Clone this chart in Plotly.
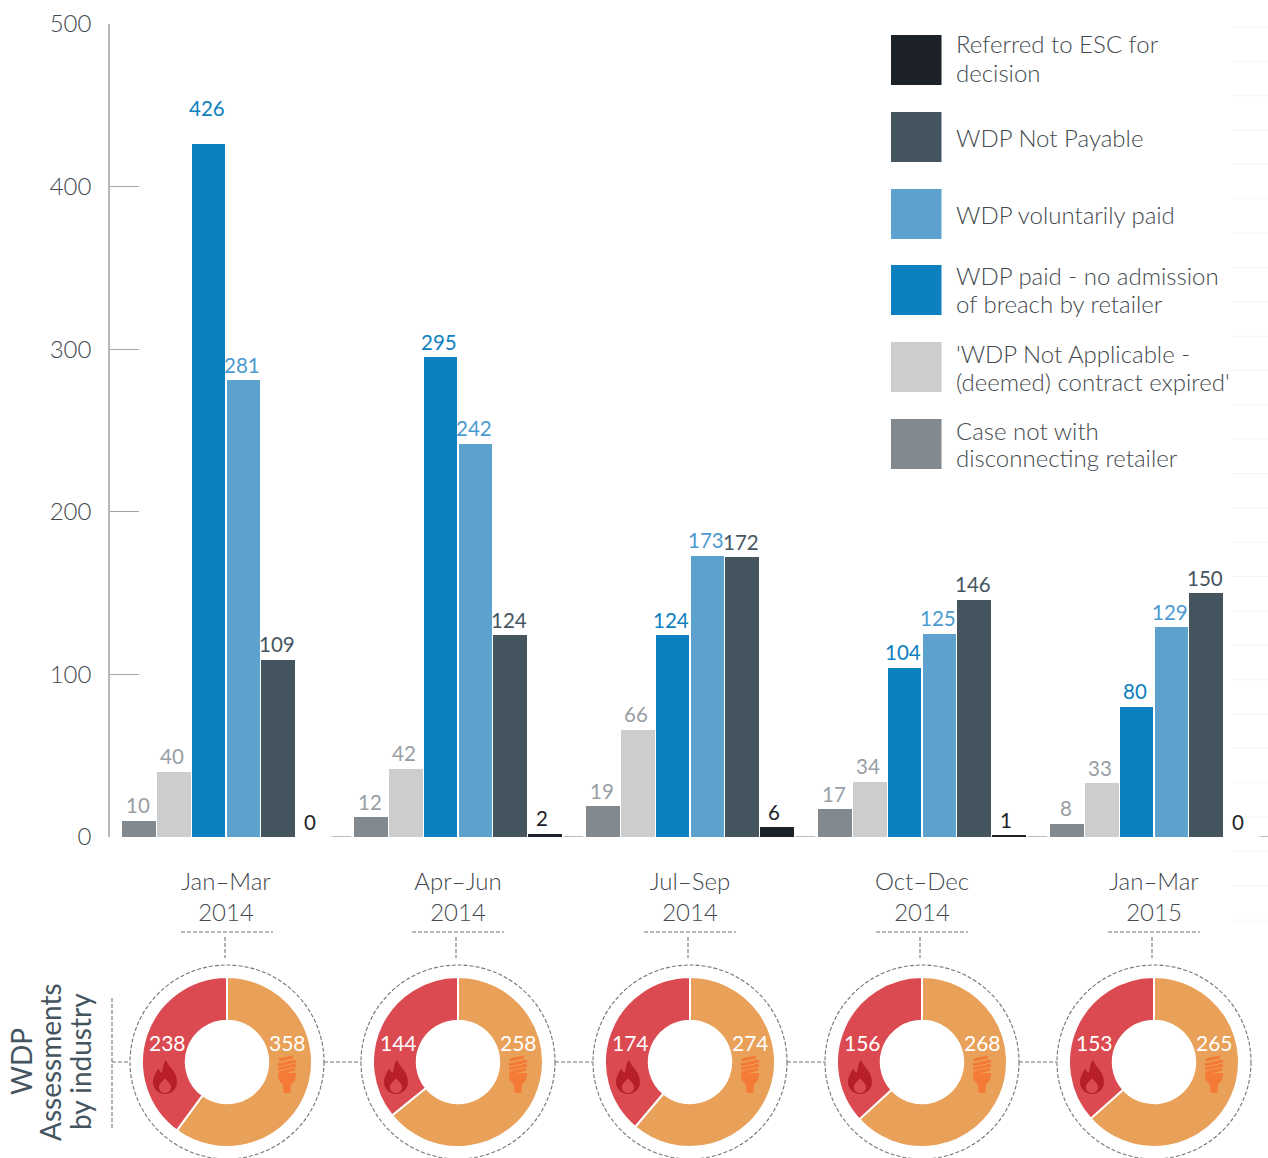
import plotly.graph_objects as go

WIDTH, HEIGHT = 1268, 1158
FONT = "Lato"

quarters = ["Jan–Mar<br>2014", "Apr–Jun<br>2014", "Jul–Sep<br>2014", "Oct–Dec<br>2014", "Jan–Mar<br>2015"]

not_with_retailer = [10, 12, 19, 17, 8]
not_applicable = [40, 42, 66, 34, 33]
paid_no_admission = [426, 295, 124, 104, 80]
voluntarily_paid = [281, 242, 173, 125, 129]
not_payable = [109, 124, 172, 146, 150]
referred_to_esc = [0, 2, 6, 1, 0]

series_names = [
    "Case not with disconnecting retailer",
    "'WDP Not Applicable - (deemed) contract expired'",
    "WDP paid - no admission of breach by retailer",
    "WDP voluntarily paid",
    "WDP Not Payable",
    "Referred to ESC for decision",
]
series_values = [not_with_retailer, not_applicable, paid_no_admission,
                 voluntarily_paid, not_payable, referred_to_esc]
bar_colors = ["#82898f", "#cccdce", "#0d80bf", "#5da2cf", "#45555f", "#1c2227"]
label_colors = ["#989ea4", "#989ea4", "#0d80bf", "#4b9bd0", "#45555f", "#1c2227"]

gas_assessments = [238, 144, 174, 156, 153]
electricity_assessments = [358, 258, 274, 268, 265]

legend_rows = [
    (["Referred to ESC for", "decision"], "#1c2227"),
    (["WDP Not Payable"], "#45555f"),
    (["WDP voluntarily paid"], "#5da2cf"),
    (["WDP paid - no admission", "of breach by retailer"], "#0d80bf"),
    (["'WDP Not Applicable -", "(deemed) contract expired'"], "#cccdce"),
    (["Case not with", "disconnecting retailer"], "#82898f"),
]
side_title = ["WDP", "Assessments", "by industry"]


# Pixel helpers for the parts placed on the page rather than on the axes
def px(x):
    return x / WIDTH


def py(y):
    return 1 - y / HEIGHT


def icon_path(commands, cx, cy):
    parts = []
    for cmd in commands:
        op, nums = cmd[0], cmd[1:]
        coords = []
        for i in range(0, len(nums), 2):
            coords += [f"{px(cx + nums[i]):.5f}", f"{py(cy + nums[i + 1]):.5f}"]
        parts.append(" ".join([op] + coords))
    return " ".join(parts)


FLAME_OUTER = [("M", 1, -17), ("C", 3, -10, 12, -6, 12, 5), ("C", 12, 12, 7, 17, 0, 17),
               ("C", -7, 17, -12, 12, -12, 5), ("C", -12, -1, -8, -5, -7, -9),
               ("C", -6, -6, -4, -5, -3, -4), ("C", -2, -9, -2, -13, 1, -17), ("Z",)]
FLAME_INNER = [("M", 0, 1), ("C", 1, 4, 6, 6, 6, 10), ("C", 6, 14, 3, 16, 0, 16),
               ("C", -3, 16, -6, 14, -6, 10), ("C", -6, 6, -2, 5, 0, 1), ("Z",)]
BULB_BODY = [("M", -9, -1), ("L", 9, -1), ("C", 9, 4, 8, 8, 4, 10), ("L", 3.5, 19),
             ("L", -3.5, 19), ("L", -4, 10), ("C", -8, 8, -9, 4, -9, -1), ("Z",)]
BULB_COILS = [(-8, -14, 6, -17), (-9, -9, 9, -13), (-9, -5, 9, -9), (-8, -1, 8, -5)]

fig = go.Figure()

# One trace per outcome, side by side within each quarter
STEP = 0.15
for k, (name, values, color) in enumerate(zip(series_names, series_values, bar_colors)):
    fig.add_trace(go.Bar(
        x=[i + (k - 2.5) * STEP for i in range(len(values))],
        y=values,
        width=0.145,
        name=name,
        marker=dict(color=color, line=dict(width=0)),
        showlegend=False,
    ))

annotations = []
shapes = []

# Value labels above the bars
for k, (values, color) in enumerate(zip(series_values, label_colors)):
    for i, v in enumerate(values):
        annotations.append(dict(
            x=i + (k - 2.5) * STEP, y=v, xref="x", yref="y", text=str(v),
            showarrow=False, xanchor="center", yanchor="bottom",
            yshift=22 if v == 426 else 1.5,
            xshift=-3 if k == 5 else -1.5,
            font=dict(family=FONT, size=20.5, color=color),
        ))

# Stubs of the baseline between the quarters
for i in range(5):
    shapes.append(dict(type="line", xref="x", yref="y", x0=i + 0.455, x1=i + 0.54, y0=0, y1=0,
                       line=dict(color="#8a9096", width=1.2)))

# Faint rules along the right edge
for r in range(27):
    y = 27 + 34.35 * r
    shapes.append(dict(type="line", xref="paper", yref="paper", x0=px(1232), x1=1,
                       y0=py(y), y1=py(y), line=dict(color="#f6f6f6", width=1)))

# Legend
swatch_tops = [35, 112, 189, 265, 342, 419]
for (lines, color), top in zip(legend_rows, swatch_tops):
    shapes.append(dict(type="rect", xref="paper", yref="paper", x0=px(891), x1=px(941.5),
                       y0=py(top), y1=py(top + 50), fillcolor=color, line=dict(width=0)))
    mid = top + 25 - (2 if len(lines) == 2 and top == 35 else 0)
    for n, line in enumerate(lines):
        y = mid + (n - (len(lines) - 1) / 2) * 28
        annotations.append(dict(
            x=px(953.5), y=py(y), xref="paper", yref="paper", text=line, showarrow=False,
            xanchor="left", yanchor="middle",
            font=dict(family=FONT, size=24, color="#43494e", weight=300),
        ))

# Industry donuts with their dashed surrounds
DASH_LINE = dict(color="#70767b", width=1.1, dash="4px,2px")
centres = [227, 458, 690, 922, 1154]
CY = 1062
for i, cx in enumerate(centres):
    fig.add_trace(go.Pie(
        values=[electricity_assessments[i], gas_assessments[i]],
        labels=["Electricity", "Gas"],
        domain=dict(x=[px(cx - 85), px(cx + 85)], y=[py(CY + 85), py(CY - 85)]),
        hole=0.485, sort=False, direction="clockwise", rotation=0,
        marker=dict(colors=["#e9a15a", "#db4a51"], line=dict(color="#ffffff", width=2)),
        textinfo="none", showlegend=False, hoverinfo="label+value",
    ))
    annotations.append(dict(x=px(cx - 60), y=py(1042), xref="paper", yref="paper",
                            text=str(gas_assessments[i]), showarrow=False,
                            xanchor="center", yanchor="middle",
                            font=dict(family=FONT, size=21, color="#ffffff")))
    annotations.append(dict(x=px(cx + 60), y=py(1042), xref="paper", yref="paper",
                            text=str(electricity_assessments[i]), showarrow=False,
                            xanchor="center", yanchor="middle",
                            font=dict(family=FONT, size=21, color="#ffffff")))
    shapes.append(dict(type="circle", xref="paper", yref="paper",
                       x0=px(cx - 97), x1=px(cx + 97), y0=py(CY + 97), y1=py(CY - 97),
                       line=DASH_LINE))
    shapes.append(dict(type="line", xref="paper", yref="paper", x0=px(cx - 2), x1=px(cx - 2),
                       y0=py(937), y1=py(958), line=DASH_LINE))
    shapes.append(dict(type="line", xref="paper", yref="paper", x0=px(cx - 46), x1=px(cx + 46),
                       y0=py(932), y1=py(932), line=DASH_LINE))
    if i < len(centres) - 1:
        shapes.append(dict(type="line", xref="paper", yref="paper", x0=px(cx + 97),
                           x1=px(centres[i + 1] - 97), y0=py(CY), y1=py(CY), line=DASH_LINE))
    # Flame and bulb markers
    fx, fy = cx - 62, CY + 15
    shapes.append(dict(type="path", xref="paper", yref="paper", path=icon_path(FLAME_OUTER, fx, fy),
                       fillcolor="#b81f27", line=dict(width=0)))
    shapes.append(dict(type="path", xref="paper", yref="paper", path=icon_path(FLAME_INNER, fx, fy),
                       fillcolor="#db4a51", line=dict(width=0)))
    bx, by = cx + 60, CY + 12
    shapes.append(dict(type="path", xref="paper", yref="paper", path=icon_path(BULB_BODY, bx, by),
                       fillcolor="#f47a36", line=dict(width=0)))
    for x0, y0, x1, y1 in BULB_COILS:
        shapes.append(dict(type="line", xref="paper", yref="paper",
                           x0=px(bx + x0), x1=px(bx + x1), y0=py(by + y0), y1=py(by + y1),
                           line=dict(color="#f47a36", width=3)))

# Rotated side title and its bracket
shapes.append(dict(type="line", xref="paper", yref="paper", x0=px(112), x1=px(112),
                   y0=py(998), y1=py(1128), line=DASH_LINE))
shapes.append(dict(type="line", xref="paper", yref="paper", x0=px(112), x1=px(130),
                   y0=py(CY), y1=py(CY), line=DASH_LINE))
for x, line in zip([21, 50, 80], side_title):
    annotations.append(dict(x=px(x), y=py(CY), xref="paper", yref="paper", text=line,
                            showarrow=False, textangle=-90,
                            xanchor="center", yanchor="middle",
                            font=dict(family=FONT, size=28, color="#45555f")))

fig.update_layout(
    width=WIDTH, height=HEIGHT, autosize=False,
    margin=dict(l=0, r=0, t=0, b=0, pad=0, autoexpand=False),
    paper_bgcolor="#ffffff", plot_bgcolor="#ffffff",
    barmode="overlay", bargap=0,
    font=dict(family=FONT),
    annotations=annotations, shapes=shapes,
    xaxis=dict(
        domain=[px(110), 1], range=[-0.5, 4.4914], automargin=False,
        tickmode="array", tickvals=list(range(5)), ticktext=quarters,
        ticks="", showgrid=False, zeroline=False, showline=False,
        ticklabelstandoff=28,
        tickfont=dict(family=FONT, size=24, color="#43494e", weight=300),
    ),
    yaxis=dict(
        domain=[py(837), py(24)], range=[0, 500], automargin=False,
        tickvals=[0, 100, 200, 300, 400, 500],
        ticks="inside", ticklen=29, tickwidth=1, tickcolor="#a0a5a9",
        showgrid=False, zeroline=False,
        showline=True, linecolor="#b4b9bd", linewidth=1.5,
        ticklabelstandoff=12,
        tickfont=dict(family=FONT, size=24, color="#43494e", weight=300),
    ),
)

fig.write_html("out.html")
